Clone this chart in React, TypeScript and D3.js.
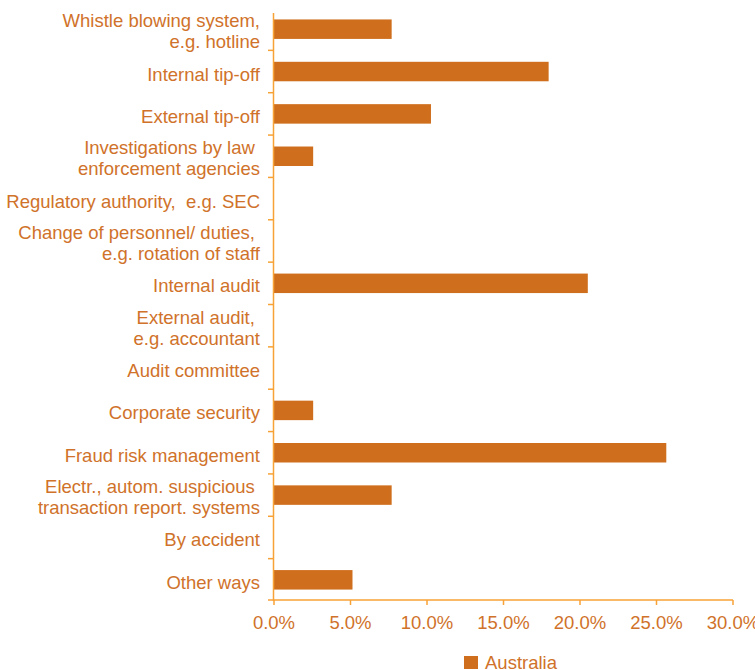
import React from "react";
import * as d3 from "d3";

const categories: string[][] = [
  ["Whistle blowing system,", "e.g. hotline"],
  ["Internal tip-off"],
  ["External tip-off"],
  ["Investigations by law ", "enforcement agencies"],
  ["Regulatory authority,  e.g. SEC"],
  ["Change of personnel/ duties, ", "e.g. rotation of staff"],
  ["Internal audit"],
  ["External audit, ", "e.g. accountant"],
  ["Audit committee"],
  ["Corporate security"],
  ["Fraud risk management"],
  ["Electr., autom. suspicious ", "transaction report. systems"],
  ["By accident"],
  ["Other ways"],
];
const australia: number[] = [
  0.0769, 0.1795, 0.1026, 0.0256, 0, 0, 0.2051, 0, 0, 0.0256, 0.2564, 0.0769, 0, 0.0513,
];
const xTicks: number[] = [0, 0.05, 0.1, 0.15, 0.2, 0.25, 0.3];
const seriesName = "Australia";

const BAR = "#cf6f1d";
const TEXT = "#d0722a";
const AXIS = "#f7a236";
const FONT = "Arial, 'Liberation Sans', Helvetica, sans-serif";
const FS = 18.5;

export default function App() {
  const x = d3.scaleLinear().domain([0, 0.3]).range([274, 733]);
  const idx = categories.map((_, i) => String(i));
  const y = d3.scaleBand().domain(idx).range([8, 601]).paddingInner(0.54).paddingOuter(0.27);
  const step = y.step();
  const bandTop = (i: number) => y(String(i))! - (step - y.bandwidth()) / 2;
  const center = (i: number) => y(String(i))! + y.bandwidth() / 2;
  const fmt = d3.format(".1%");
  const axisY = 600;

  return (
    <svg
      width={755}
      height={670}
      style={{ position: "absolute", left: 0, top: 0, background: "#fff" }}
      fontFamily={FONT}
    >
      {australia.map((v, i) =>
        v > 0 ? (
          <rect
            key={i}
            x={x(0)}
            y={y(String(i))}
            width={x(v) - x(0)}
            height={y.bandwidth()}
            fill={BAR}
          />
        ) : null
      )}
      <line x1={273.5} x2={273.5} y1={13} y2={axisY + 1} stroke={AXIS} strokeWidth={1.5} />
      {categories.map((_, i) =>
        i > 0 ? (
          <line key={i} x1={268} x2={274} y1={bandTop(i)} y2={bandTop(i)} stroke={AXIS} strokeWidth={1.5} />
        ) : null
      )}
      <line x1={268} x2={274} y1={axisY} y2={axisY} stroke={AXIS} strokeWidth={1.5} />
      <line x1={273} x2={733} y1={axisY} y2={axisY} stroke={AXIS} strokeWidth={1.5} />
      {xTicks.map((t) => (
        <g key={t}>
          <line x1={x(t)} x2={x(t)} y1={axisY} y2={axisY + 5} stroke={AXIS} strokeWidth={1.5} />
          <text x={x(t)} y={629} textAnchor="middle" fontSize={FS} fill={TEXT}>
            {fmt(t)}
          </text>
        </g>
      ))}
      {categories.map((lines, i) => {
        const c = center(i);
        if (lines.length === 1) {
          return (
            <text key={i} x={260} y={c + 9} textAnchor="end" fontSize={FS} fill={TEXT} style={{ whiteSpace: "pre" }}>
              {lines[0]}
            </text>
          );
        }
        return (
          <text key={i} textAnchor="end" fontSize={FS} fill={TEXT} style={{ whiteSpace: "pre" }}>
            <tspan x={260} y={c - 2}>{lines[0]}</tspan>
            <tspan x={260} y={c + 19}>{lines[1]}</tspan>
          </text>
        );
      })}
      <rect x={464} y={656} width={14} height={13} fill={BAR} />
      <text x={485} y={669} fontSize={FS} fill={TEXT}>
        {seriesName}
      </text>
    </svg>
  );
}
